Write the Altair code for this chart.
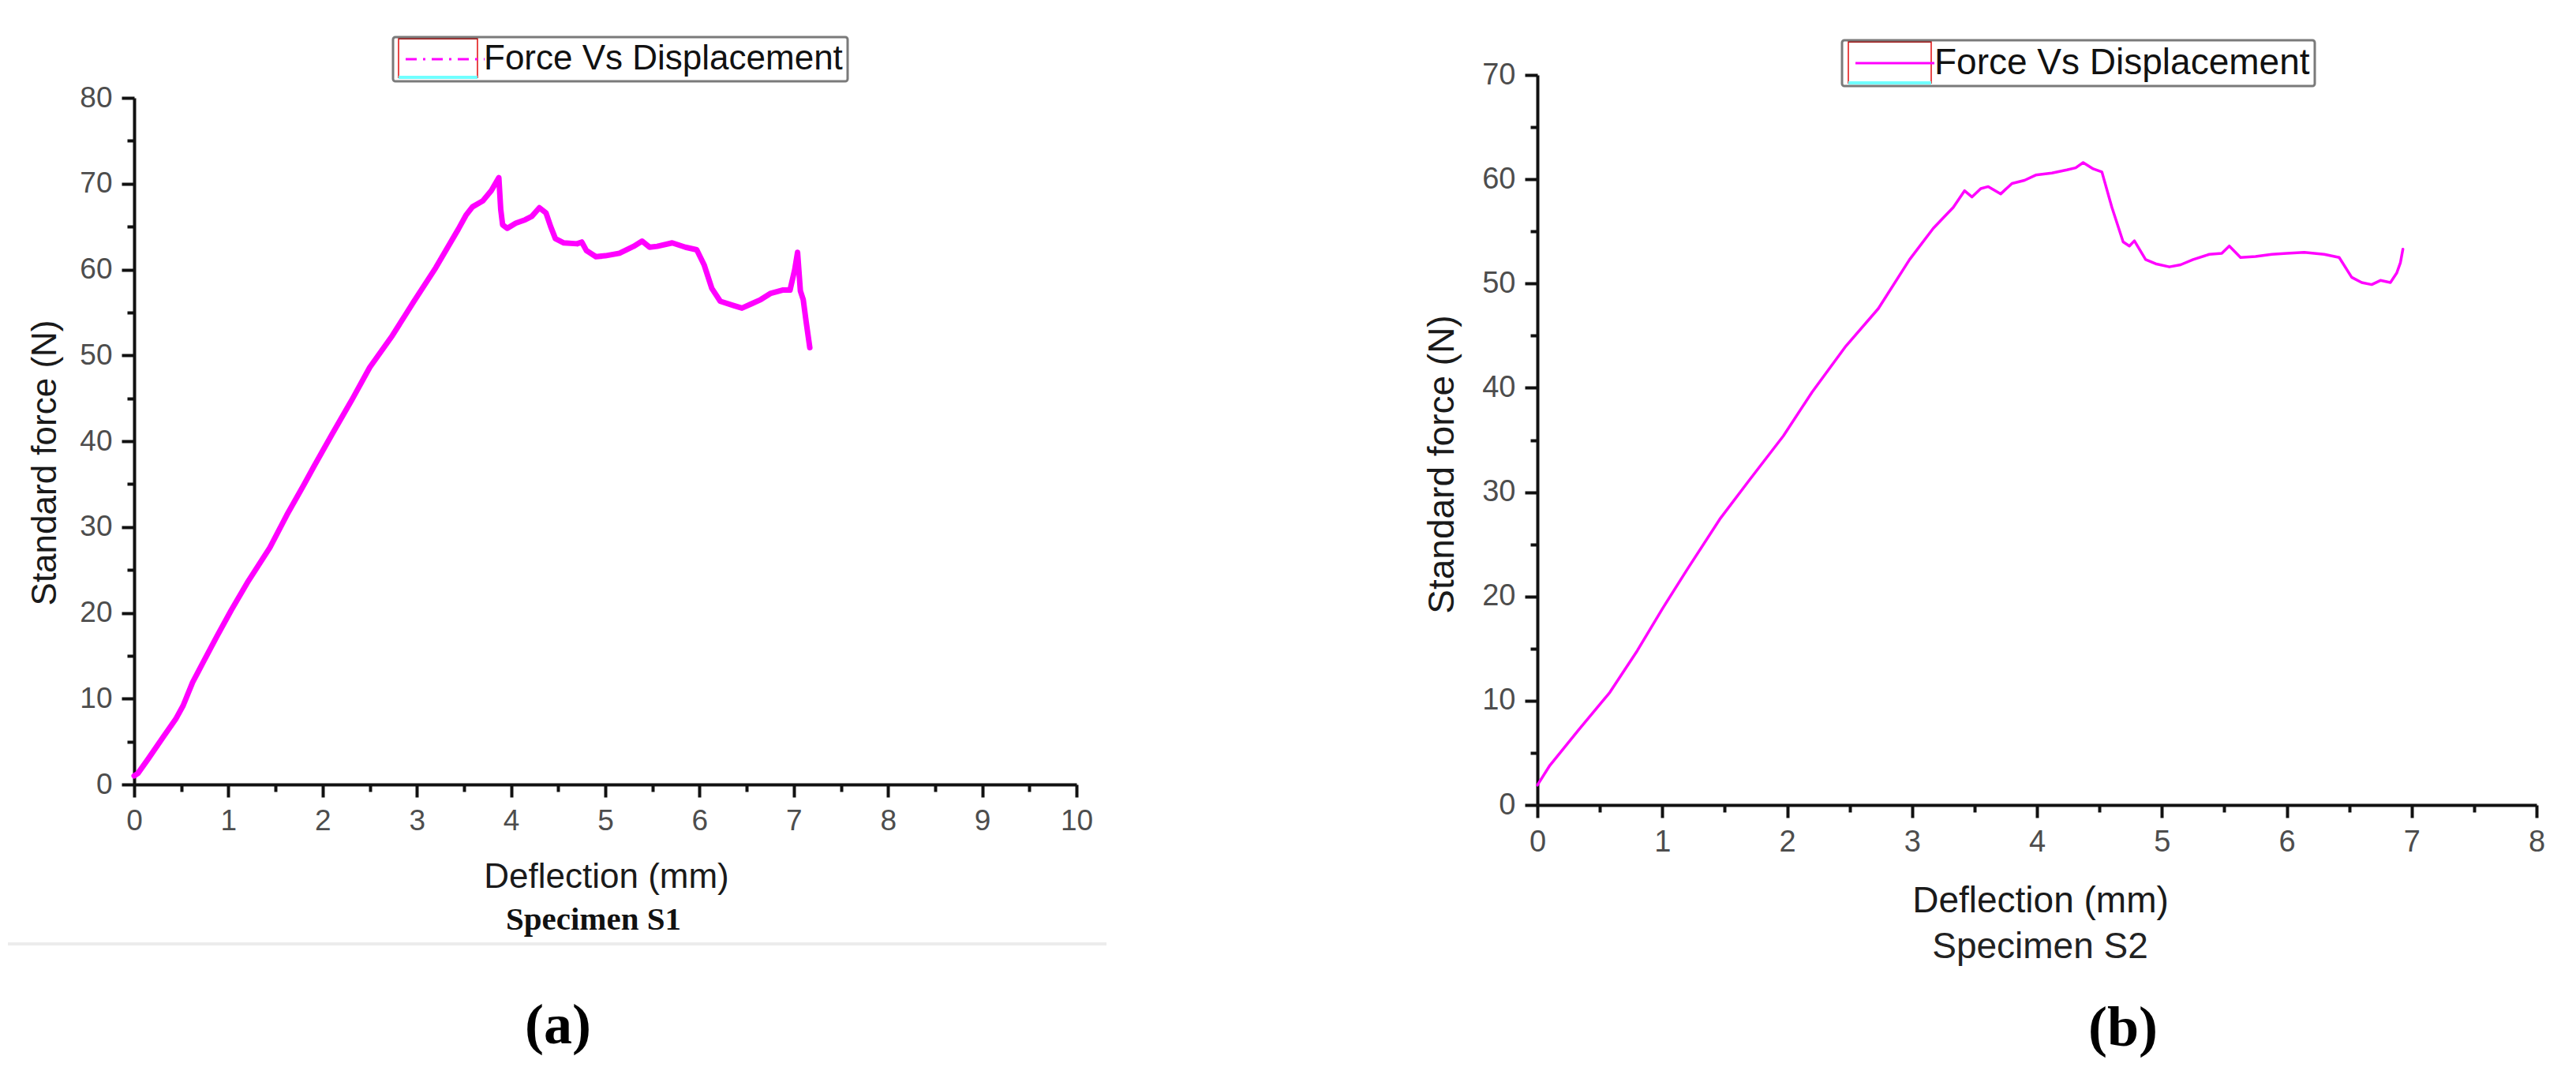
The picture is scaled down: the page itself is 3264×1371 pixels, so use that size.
import altair as alt
import pandas as pd

SERIES = "Force Vs Displacement"

# ---- Specimen S1 (panel a) ----
s1_x = [0.0, 0.04, 0.15, 0.3, 0.44, 0.52, 0.62, 0.74, 0.88, 1.03, 1.2, 1.44, 1.62, 1.8, 1.91,
        2.1, 2.32, 2.5, 2.74, 2.97, 3.2, 3.44, 3.52, 3.59, 3.7, 3.79, 3.87, 3.89, 3.91, 3.96,
        4.05, 4.15, 4.22, 4.3, 4.37, 4.42, 4.47, 4.56, 4.7, 4.75, 4.8, 4.9, 5.0, 5.15, 5.3,
        5.39, 5.47, 5.55, 5.71, 5.85, 5.97, 6.05, 6.13, 6.22, 6.36, 6.45, 6.55, 6.65, 6.75, 6.88,
        6.96, 7.01, 7.04, 7.07, 7.1, 7.13, 7.17]
s1_y = [1.0, 1.3, 3.0, 5.4, 7.6, 9.2, 11.9, 14.4, 17.3, 20.3, 23.5, 27.6, 31.4, 34.9, 37.1,
        40.8, 45.0, 48.6, 52.3, 56.3, 60.2, 64.7, 66.3, 67.3, 68.0, 69.2, 70.7, 67.0, 65.2, 64.8,
        65.4, 65.8, 66.2, 67.2, 66.6, 65.0, 63.6, 63.1, 63.0, 63.2, 62.2, 61.5, 61.6, 61.9, 62.7,
        63.3, 62.6, 62.7, 63.1, 62.6, 62.3, 60.5, 57.8, 56.3, 55.8, 55.5, 56.0, 56.5, 57.2, 57.6,
        57.6, 60.0, 62.0, 57.5, 56.5, 54.0, 50.9]

# ---- Specimen S2 (panel b) ----
s2_x = [0.0, 0.1, 0.33, 0.58, 0.8, 1.0, 1.2, 1.46, 1.7, 1.97, 2.2, 2.47, 2.73, 2.98, 3.17,
        3.33, 3.42, 3.48, 3.55, 3.61, 3.71, 3.8, 3.9, 3.99, 4.12, 4.24, 4.31, 4.37, 4.45, 4.52,
        4.6, 4.69, 4.74, 4.78, 4.87, 4.95, 5.06, 5.15, 5.25, 5.38, 5.48, 5.54, 5.63, 5.75, 5.88,
        6.0, 6.14, 6.3, 6.42, 6.52, 6.6, 6.68, 6.75, 6.83, 6.88, 6.91, 6.93]
s2_y = [1.9, 3.8, 7.2, 10.8, 14.8, 18.8, 22.6, 27.4, 31.2, 35.4, 39.6, 44.0, 47.6, 52.3, 55.3,
        57.3, 58.9, 58.3, 59.1, 59.3, 58.6, 59.6, 59.9, 60.4, 60.6, 60.9, 61.1, 61.6, 61.0, 60.7,
        57.3, 54.0, 53.6, 54.1, 52.3, 51.9, 51.6, 51.8, 52.3, 52.8, 52.9, 53.6, 52.5, 52.6, 52.8,
        52.9, 53.0, 52.8, 52.5, 50.6, 50.1, 49.9, 50.3, 50.1, 51.0, 52.0, 53.3]

# tick positions (majors labelled, halves are minor ticks)
a_xticks = [0, 0.5, 1, 1.5, 2, 2.5, 3, 3.5, 4, 4.5, 5, 5.5, 6, 6.5, 7, 7.5, 8, 8.5, 9, 9.5, 10]
a_yticks = [0, 5, 10, 15, 20, 25, 30, 35, 40, 45, 50, 55, 60, 65, 70, 75, 80]
b_xticks = [0, 0.5, 1, 1.5, 2, 2.5, 3, 3.5, 4, 4.5, 5, 5.5, 6, 6.5, 7, 7.5, 8]
b_yticks = [0, 5, 10, 15, 20, 25, 30, 35, 40, 45, 50, 55, 60, 65, 70]

X_TITLE = "Deflection (mm)"
Y_TITLE = "Standard force (N)"

AXIS_COLOR = "#111111"
LABEL_COLOR = "#4d4d4d"
SANS = "Liberation Sans"
SERIF = "Liberation Serif"


def axis(values, major_test, title, title_size, title_x, title_y, label_size, is_y):
    kw = dict(
        values=values,
        labelExpr=f"({major_test}) ? format(datum.value, 'd') : ''",
        tickSize={"condition": {"test": major_test, "value": 16}, "value": 9},
        tickWidth=4,
        tickColor=AXIS_COLOR,
        domainColor=AXIS_COLOR,
        domainWidth=4,
        labelFont=SANS,
        labelFontSize=label_size,
        labelColor=LABEL_COLOR,
        labelPadding=12,
        labelFlush=False,
        labelOverlap=False,
        grid=False,
        title=title,
        titleFont=SANS,
        titleFontSize=title_size,
        titleFontWeight="normal",
        titleColor="#1a1a1a",
        titleX=title_x,
        titleY=title_y,
        titleBaseline="middle",
        titleAlign="center",
    )
    if is_y:
        kw["titleAngle"] = 270
    return alt.Axis(**kw)


def panel(xs, ys, xmax, ymax, xticks, yticks, width, height, yrange,
          legend_x, legend_y, dash, line_w, title_size, label_size,
          xtitle_xy, ytitle_xy, spec_text, spec_font, spec_weight, spec_size, spec_color,
          spec_xy, tag, tag_xy, swatch, sep=None):
    df = pd.DataFrame({"x": xs, "y": ys, "series": [SERIES] * len(xs)})
    legend_kw = dict(
        orient="none", legendX=legend_x, legendY=legend_y, title=None,
        symbolType="M-5,0H5", symbolSize=400, symbolStrokeWidth=3, symbolOffset=38,
        labelFont=SANS, labelFontSize=title_size, labelColor="#111111", labelLimit=1000,
        labelOffset=27, padding=6, strokeColor="#7a7a7a", cornerRadius=3,
    )
    if dash:
        legend_kw["symbolDash"] = dash
    yscale = dict(domain=[0, ymax], nice=False)
    if yrange:
        yscale["range"] = yrange
    line = alt.Chart(df).mark_line(strokeWidth=line_w, strokeJoin="round", strokeCap="round").encode(
        x=alt.X("x:Q", scale=alt.Scale(domain=[0, xmax], nice=False),
                axis=axis(xticks, "datum.value % 1 === 0", X_TITLE, title_size,
                          xtitle_xy[0], xtitle_xy[1], label_size, False)),
        y=alt.Y("y:Q", scale=alt.Scale(**yscale),
                axis=axis(yticks, "datum.value % 10 === 0", Y_TITLE, title_size,
                          ytitle_xy[0], ytitle_xy[1], label_size, True)),
        color=alt.Color("series:N", scale=alt.Scale(domain=[SERIES], range=["#ff00ff"]),
                        legend=alt.Legend(**legend_kw)),
    )
    spec = alt.Chart(pd.DataFrame({"t": [spec_text]})).mark_text(
        font=spec_font, fontWeight=spec_weight, fontSize=spec_size, color=spec_color,
        align="center", baseline="middle").encode(
        text="t:N", x=alt.value(spec_xy[0]), y=alt.value(spec_xy[1]))
    tagc = alt.Chart(pd.DataFrame({"t": [tag]})).mark_text(
        font=SERIF, fontWeight="bold", fontSize=72, color="#000000",
        align="center", baseline="middle").encode(
        text="t:N", x=alt.value(tag_xy[0]), y=alt.value(tag_xy[1]))
    sx0, sx1, sy0, sy1 = swatch
    one = pd.DataFrame({"k": [0]})
    sw_box = alt.Chart(one).mark_rect(fillOpacity=0, stroke="#e84848", strokeWidth=2).encode(
        x=alt.value(sx0), x2=alt.value(sx1), y=alt.value(sy0), y2=alt.value(sy1))
    sw_top = alt.Chart(one).mark_rule(color="#a01818", strokeWidth=2).encode(
        x=alt.value(sx0), x2=alt.value(sx1), y=alt.value(sy0))
    sw_bot = alt.Chart(one).mark_rule(color="#70ffff", strokeWidth=4).encode(
        x=alt.value(sx0), x2=alt.value(sx1), y=alt.value(sy1))
    layers = [sw_box, sw_top, sw_bot, line, spec, tagc]
    if sep:
        layers.append(alt.Chart(one).mark_rule(color="#ececec", strokeWidth=4).encode(
            x=alt.value(sep[0]), x2=alt.value(sep[1]), y=alt.value(sep[2])))
    return alt.layer(*layers).properties(width=width, height=height)


left = panel(
    s1_x, s1_y, 10, 80, a_xticks, a_yticks, 1194, 899, [899, 29],
    legend_x=328, legend_y=-48, dash=[14, 8, 3, 8], line_w=7, title_size=44, label_size=37,
    xtitle_xy=(598, 117), ytitle_xy=(-113, 491),
    spec_text="Specimen S1", spec_font=SERIF, spec_weight="bold", spec_size=41, spec_color="#111111",
    spec_xy=(582, 1071), tag="(a)", tag_xy=(537, 1205),
    swatch=(335, 435, -46, 3), sep=(-160, 1232, 1101),
)

right = panel(
    s2_x, s2_y, 8, 70, b_xticks, b_yticks, 1266, 925, None,
    legend_x=386, legend_y=-44, dash=None, line_w=3.5, title_size=46, label_size=38,
    xtitle_xy=(637, 121), ytitle_xy=(-121, 493),
    spec_text="Specimen S2", spec_font=SANS, spec_weight="normal", spec_size=46, spec_color="#222222",
    spec_xy=(637, 1105), tag="(b)", tag_xy=(742, 1208),
    swatch=(394, 499, -42, 10),
)

chart = alt.hconcat(left, right, spacing=584, bounds="flush").resolve_scale(
    color="independent", x="independent", y="independent"
).resolve_legend(color="independent").properties(
    padding={"left": 0, "top": 37, "right": 5, "bottom": 5}
).configure_view(strokeWidth=0).configure_legend(strokeWidth=3)

chart.save("out.html", embed_options={"renderer": "svg", "actions": False})
